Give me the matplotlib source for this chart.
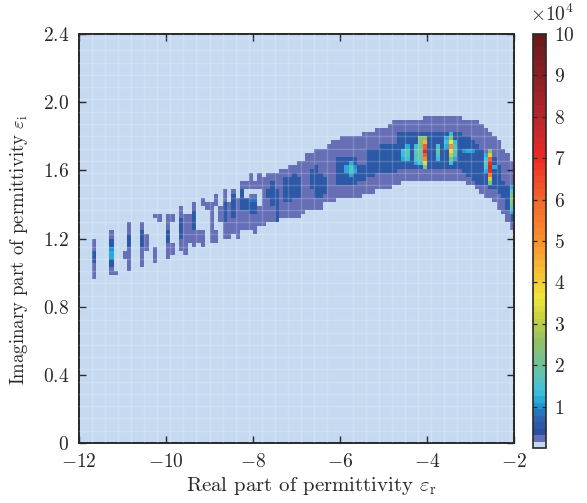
import numpy as np
import matplotlib
matplotlib.use("Agg")
import matplotlib.pyplot as plt
from matplotlib.colors import LinearSegmentedColormap, Normalize

plt.rcParams['mathtext.fontset'] = 'cm'
plt.rcParams['font.family'] = 'cmr10'
plt.rcParams['axes.unicode_minus'] = False
plt.rcParams['axes.formatter.use_mathtext'] = True

N_COLS, N_ROWS = 100, 100
x_edges = -12 + 0.1 * np.arange(N_COLS + 1)
y_edges = 0.024 * np.arange(N_ROWS + 1)

# (column, first row, end row) strips of the histogram
faint_strips = [
    (3,40,50),(7,41,52),(8,41,42),(10,45,47),(11,42,54),(14,43,54),(15,47,51),(17,44,48),(17,55,56),
    (18,54,56),(20,45,56),(21,46,49),(21,54,56),(23,47,58),(24,46,56),(25,49,56),(26,48,59),(27,49,52),
    (28,48,52),(28,58,60),(29,57,59),(30,49,59),(31,49,52),(31,58,61),(32,54,58),(33,50,62),(34,50,59),
    (35,51,62),(36,50,60),(37,52,64),(38,52,60),(38,62,64),(39,52,61),(39,62,66),(40,51,61),(40,62,64),
    (41,53,58),(41,62,66),(42,53,65),(43,54,66),(44,54,66),(45,54,66),(46,55,67),(47,55,67),(48,55,68),
    (49,55,68),(50,55,69),(51,56,69),(52,57,71),(53,57,71),(54,57,72),(55,57,72),(56,59,72),(57,59,73),
    (58,59,74),(59,60,74),(60,60,75),(61,60,75),(62,60,75),(63,60,75),(64,60,75),(65,61,76),(66,61,76),
    (67,61,76),(68,62,77),(69,62,77),(70,62,77),(71,62,78),(72,63,79),(73,63,79),(74,64,79),(75,64,79),
    (76,64,79),(77,64,79),(78,64,79),(79,64,80),(80,64,80),(81,64,80),(82,64,80),(83,64,80),(84,64,80),
    (85,64,80),(86,64,80),(87,64,80),(88,64,79),(89,63,79),(90,63,79),(91,62,79),(92,61,78),(93,60,77),
    (94,60,76),(95,59,75),(96,57,74),(97,56,72),(98,54,71),(99,52,69),
]
core_strips = [
    (3,44,47),(7,43,50),(11,48,51),(14,48,52),(20,49,52),(23,50,55),(26,52,57),(33,54,59),(35,55,61),
    (37,57,62),(38,57,60),(39,56,60),(40,56,60),(43,60,62),(44,58,64),(45,54,62),(47,59,65),(48,59,65),
    (49,60,66),(50,60,65),(53,62,67),(54,60,68),(55,60,66),(56,61,65),(59,63,70),(60,63,70),(61,63,70),
    (62,63,70),(63,63,70),(64,64,68),(65,64,68),(66,65,72),(67,65,72),(68,66,72),(69,66,73),(70,66,73),
    (71,66,73),(72,66,73),(73,67,76),(74,67,76),(75,67,76),(76,67,76),(77,67,76),(78,67,76),(79,67,76),
    (80,67,76),(81,67,76),(82,67,76),(83,67,76),(84,67,76),(85,67,76),(86,67,76),(87,67,76),(88,66,75),
    (89,65,75),(90,64,74),(91,63,73),(92,63,72),(93,63,71),(94,62,69),(95,62,70),(96,61,68),(97,60,64),
    (98,57,63),(99,54,61),
]
# column -> (first row, values in units of 10^4, bottom to top)
hot_columns = {
    7: (45, [1.1, 1.2, 1.0]),
    39: (59, [0.9]),
    40: (59, [0.9]),
    61: (66, [1.1, 1.1]),
    62: (65, [1.1, 1.6, 1.6, 1.2]),
    63: (66, [1.1, 1.0]),
    74: (69, [1.2, 1.4, 1.3]),
    75: (69, [1.4, 1.7, 1.7, 1.1]),
    77: (68, [1.2, 1.6, 1.7, 1.8, 1.4]),
    78: (68, [1.3, 1.8, 2.0, 2.0, 2.1, 2.2, 2.4]),
    79: (67, [2.2, 3.4, 5.2, 6.2, 7.2, 6.2, 4.5, 2.6]),
    82: (69, [1.4, 1.7, 1.8, 1.5]),
    84: (72, [1.2, 1.3, 1.1]),
    85: (68, [1.3, 2.2, 3.0, 3.8, 5.0, 3.6, 2.5, 1.3]),
    86: (69, [1.2, 1.6, 1.7, 1.6, 1.4]),
    88: (71, [1.0]),
    89: (71, [1.1]),
    90: (71, [1.0]),
    93: (66, [1.2, 1.5, 1.8, 1.5, 1.1]),
    94: (63, [2.2, 3.2, 5.5, 7.0, 7.6, 7.0, 6.0, 4.2, 2.6]),
    95: (67, [1.2]),
    99: (56, [1.1, 1.6, 2.2, 2.5, 2.2, 1.6, 1.1]),
}
FAINT_LEVEL = 0.22
CORE_LEVEL = 0.6

counts = np.zeros((N_ROWS, N_COLS))
for c, a, b in faint_strips:
    counts[a:b, c] = FAINT_LEVEL
for c, a, b in core_strips:
    counts[a:b, c] = CORE_LEVEL
for c, (a, vals) in hot_columns.items():
    counts[a:a + len(vals), c] = vals

cmap_anchors = [
    (0.0, '#c5daf1'), (0.0155, '#c5daf1'), (0.0156, '#666fb6'), (0.031, '#666fb6'), (0.0311, '#2a4f9f'),
    (0.07, '#2c66b2'), (0.1, '#1c9ed8'), (0.13, '#3ec0de'), (0.18, '#66c3a8'), (0.25, '#8fbf6a'),
    (0.31, '#c6d03f'), (0.36, '#eee83a'), (0.42, '#f6c133'), (0.5, '#f8902e'), (0.6, '#f2682a'),
    (0.7, '#ee2a26'), (0.8, '#b9272c'), (0.9, '#8c2024'), (1.0, '#6a1a1c'),
]
cmap = LinearSegmentedColormap.from_list('band', cmap_anchors, N=64)

W, H = 587, 503
fig = plt.figure(figsize=(W / 100, H / 100), dpi=100)
ax = fig.add_axes([79 / W, 1 - 443 / H, 435 / W, 409 / H])
ink = '#2b2727'
mesh = ax.pcolormesh(x_edges, y_edges, counts, cmap=cmap, norm=Normalize(0, 10), linewidth=0)
ax.set_xlim(-12, -2)
ax.set_ylim(0, 2.4)
# faint lattice seen over the cells
ax.set_xticks(x_edges[::3], minor=True)
ax.set_yticks(y_edges[::3], minor=True)
ax.grid(which='minor', color='white', alpha=0.18, linewidth=1.0)
ax.set_axisbelow(False)
xticks = [-12, -10, -8, -6, -4, -2]
yticks = [0, 0.4, 0.8, 1.2, 1.6, 2.0, 2.4]
ax.set_xticks(xticks)
ax.set_xticklabels([f'$-{abs(v)}$' for v in xticks])
ax.set_yticks(yticks)
ax.set_yticklabels(['$0$'] + [f'${v:.1f}$' for v in yticks[1:]])
ax.tick_params(which='minor', length=0)
ax.tick_params(which='major', direction='in', top=True, right=True, length=5, width=1.0, color=ink,
               labelsize=14, labelcolor=ink)
ax.tick_params(axis='x', which='major', pad=7)
ax.tick_params(axis='y', which='major', pad=7)
for s in ax.spines.values():
    s.set_linewidth(1.4)
    s.set_color(ink)
fig.text(311 / W, 1 - 486 / H, r'Real part of permittivity $\varepsilon_{\mathrm{r}}$',
         fontsize=15, color=ink, ha='center', va='center')
fig.text(19 / W, 1 - 250 / H, r'Imaginary part of permittivity $\varepsilon_{\mathrm{i}}$',
         fontsize=13.5, color=ink, ha='center', va='center', rotation=90)

cax = fig.add_axes([533 / W, 1 - 448 / H, 13 / W, 414 / H])
cb = fig.colorbar(mesh, cax=cax)
cb.set_ticks(range(1, 11))
cb.set_ticklabels([f'${v}$' for v in range(1, 11)])
cax.tick_params(direction='in', length=3, width=0.9, color=ink, left=True, right=True,
                labelsize=14, labelcolor=ink, pad=6)
cb.outline.set_linewidth(1.2)
cb.outline.set_edgecolor(ink)
fig.text(552 / W, 1 - 14 / H, r'$\times 10^{4}$', fontsize=14, color=ink, ha='center', va='center')

fig.savefig('out.png', dpi=100)
